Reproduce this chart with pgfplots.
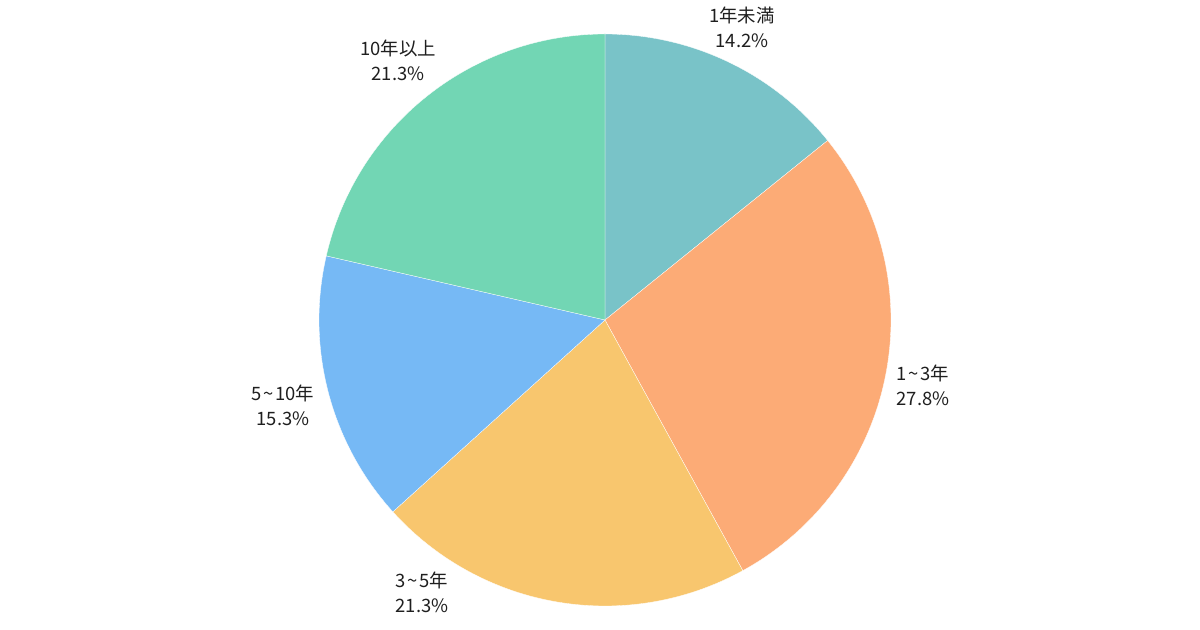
\documentclass[border=0pt]{standalone}
\usepackage{pgfplots}
\pgfplotsset{compat=1.18}
\usepackage{fontspec}
\setmainfont{Noto Sans CJK JP}
\definecolor{c1}{HTML}{79C3C8}
\definecolor{c2}{HTML}{FCAB76}
\definecolor{c3}{HTML}{F8C66E}
\definecolor{c4}{HTML}{76B9F5}
\definecolor{c5}{HTML}{72D6B4}
\newcommand{\tl}{\hspace{1.5pt}\textasciitilde\hspace{1.5pt}}
% slice: start percent, value percent, colour
\newcommand{\slice}[3]{%
  \addplot[fill=#3, draw=white, line width=0.3pt, domain={90-3.6*(#1+#2)}:{90-3.6*#1}, samples=120, variable=\t]
    ({605+286*cos(\t)},{310+286*sin(\t)}) -- (axis cs:605,310) -- cycle;}
\begin{document}
\begin{tikzpicture}
\begin{axis}[width=1200bp, height=630bp, scale only axis,
  xmin=0, xmax=1200, ymin=0, ymax=630, hide axis, clip=false]
\path (rel axis cs:0,0) rectangle (rel axis cs:1,1);
\slice{0}{14.2}{c1}
\slice{14.2}{27.8}{c2}
\slice{42.0}{21.3}{c3}
\slice{63.3}{15.3}{c4}
\slice{78.6}{21.4}{c5}
\begin{scope}[every node/.style={align=center, font=\fontsize{18.5}{25}\selectfont, text=black!88}]
\node at (axis cs:742,603) {1年未満\\14.2\%};
\node at (axis cs:923,245) {1\tl3年\\27.8\%};
\node at (axis cs:422,38) {3\tl5年\\21.3\%};
\node at (axis cs:283,225) {5\tl10年\\15.3\%};
\node at (axis cs:398,570) {10年以上\\21.3\%};
\end{scope}
\end{axis}
\end{tikzpicture}
\end{document}
